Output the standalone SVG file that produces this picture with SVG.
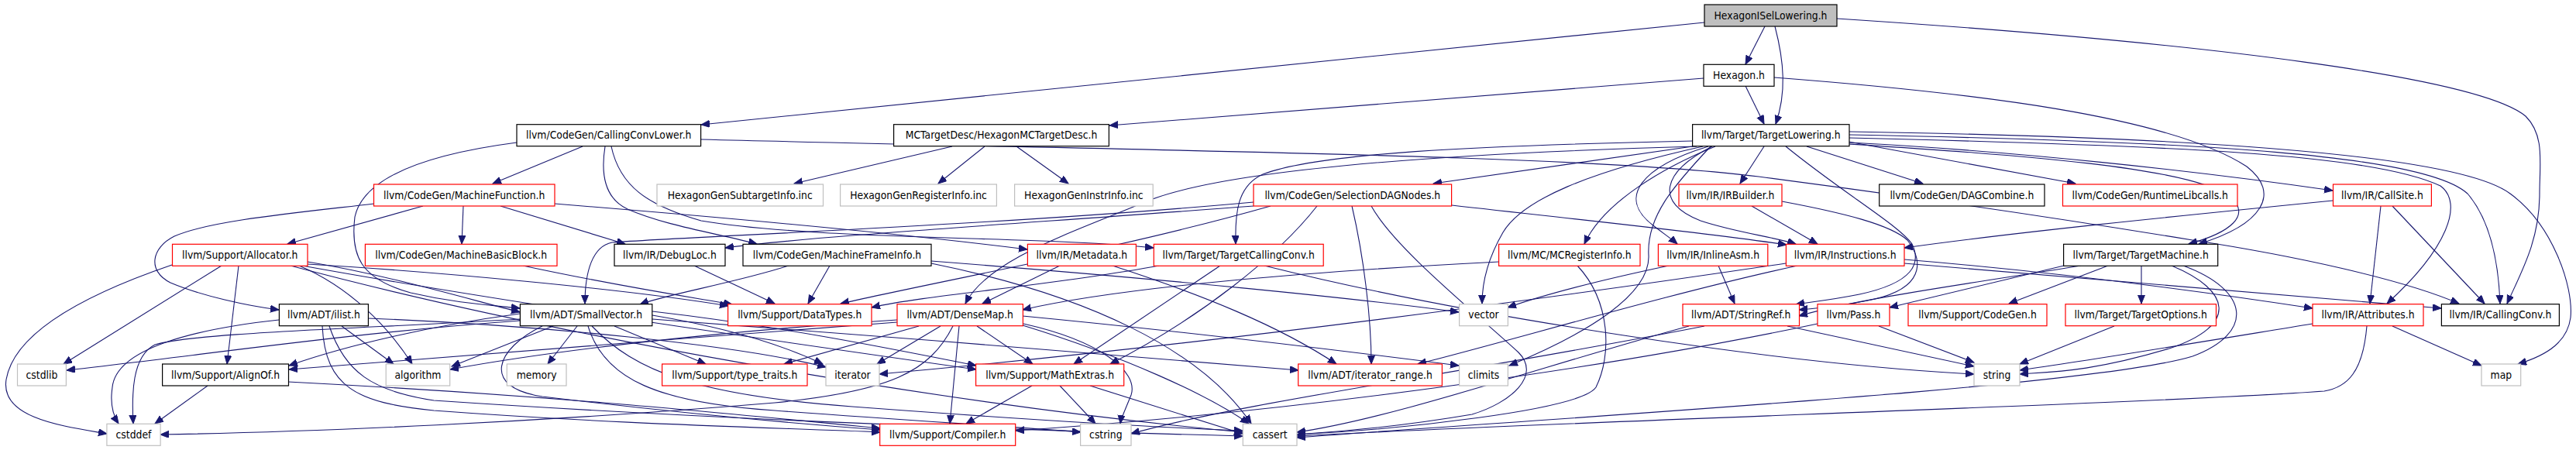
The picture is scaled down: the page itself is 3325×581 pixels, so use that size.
<svg xmlns="http://www.w3.org/2000/svg" width="3325" height="581" viewBox="0 0 3325 581">
<style>
.e{fill:none;stroke:#191970;stroke-width:1.1;marker-end:url(#arr)}
.n rect{fill:#ffffff;stroke-width:1.2}
.blk rect{stroke:#000000}
.red rect{stroke:#ff0000}
.gry rect{stroke:#bfbfbf}
.root rect{fill:#bfbfbf;stroke:#000000}
.n text{font-family:"DejaVu Sans","Liberation Sans",sans-serif;font-size:13.5px;fill:#000000;text-anchor:middle}
</style>
<defs>
<marker id="arr" markerWidth="12" markerHeight="10" refX="11" refY="4.5" orient="auto" markerUnits="userSpaceOnUse"><path d="M0,0 L11,4.5 L0,9 z" fill="#191970" stroke="#191970" stroke-width="1"/></marker>
</defs>
<rect x="0" y="0" width="3325" height="581" fill="#ffffff"/>
<g id="edges">
<path class="e" d="M2278,34 L2253,83"/>
<path class="e" d="M2291,34 C2303,80 2306,120 2292,160"/>
<path class="e" d="M2200,29 L905,161"/>
<path class="e" d="M2371,24 C2850,55 3200,100 3260,150 C3285,175 3278,210 3278,250 C3278,310 3255,350 3236,392"/>
<path class="e" d="M2199,101 L1432,162"/>
<path class="e" d="M2253,111 L2277,160"/>
<path class="e" d="M2290,100 C2550,120 2800,150 2900,215 C2945,250 2920,290 2838,315"/>
<path class="e" d="M1229,189 L1025,237"/>
<path class="e" d="M1271,189 L1211,237"/>
<path class="e" d="M1312,189 L1379,237"/>
<path class="e" d="M752,189 L636,237"/>
<path class="e" d="M667,184 C560,198 470,225 458,280 C452,330 465,360 530,378 C590,392 635,394 671,398"/>
<path class="e" d="M781,189 C776,220 778,255 810,270 C860,292 930,302 977,315"/>
<path class="e" d="M789,189 C800,240 835,265 905,285 C1050,310 1350,305 1489,320"/>
<path class="e" d="M905,180 C1500,195 2050,200 2270,228 C2500,258 2720,292 2830,310 C2960,330 3100,360 3174,392"/>
<path class="e" d="M2185,189 L1850,237"/>
<path class="e" d="M2190,189 C1800,200 1560,225 1475,262 C1385,300 1275,335 1246,392"/>
<path class="e" d="M2332,189 L2482,237"/>
<path class="e" d="M2386,183 L2679,237"/>
<path class="e" d="M2277,189 L2246,237"/>
<path class="e" d="M2387,184 C2600,195 2830,220 3011,246"/>
<path class="e" d="M2387,178 C2800,188 3060,198 3150,240 C3180,262 3160,320 3081,392"/>
<path class="e" d="M2387,174 C2850,183 3130,200 3185,250 C3215,285 3225,340 3227,392"/>
<path class="e" d="M2387,170 C2900,178 3180,205 3240,250 C3295,290 3322,370 3318,410 C3314,440 3290,458 3250,470"/>
<path class="e" d="M2387,186 C2600,200 2830,215 2880,255 C2905,278 2880,300 2825,315"/>
<path class="e" d="M2185,182 C1900,188 1700,198 1630,225 C1597,240 1594,275 1595,315"/>
<path class="e" d="M2214,189 C2150,215 2070,260 2045,315"/>
<path class="e" d="M2205,189 C2120,215 2085,255 2135,292 C2148,302 2157,308 2165,315"/>
<path class="e" d="M2210,189 C2145,222 2135,262 2195,285 C2240,300 2290,306 2318,315"/>
<path class="e" d="M2198,189 C2050,222 1965,258 1940,300 C1918,338 1913,368 1913,392"/>
<path class="e" d="M2208,189 C2160,240 2125,280 2128,330 C2130,380 2050,430 1948,472"/>
<path class="e" d="M2305,189 C2380,250 2450,290 2468,315 C2480,340 2470,365 2400,380 C2360,388 2335,390 2318,393"/>
<path class="e" d="M2300,260 C2380,275 2440,290 2462,310 C2485,340 2480,372 2420,386 C2380,395 2345,398 2322,400"/>
<path class="e" d="M1618,261 C1300,290 900,305 790,313 C765,318 755,350 755,392"/>
<path class="e" d="M1618,266 C1300,290 1050,305 936,320"/>
<path class="e" d="M1874,265 C2050,285 2200,300 2306,316"/>
<path class="e" d="M1640,266 C1450,320 1250,355 1085,392"/>
<path class="e" d="M1700,266 C1650,330 1550,410 1433,470"/>
<path class="e" d="M1745,266 C1760,330 1770,410 1770,470"/>
<path class="e" d="M1770,266 C1800,320 1900,400 1960,455 C1990,485 1950,520 1900,535 C1800,552 1720,558 1674,561"/>
<path class="e" d="M483,263 C380,275 270,285 225,305 C195,320 190,350 220,365 C260,382 320,395 360,400"/>
<path class="e" d="M598,266 L596,315"/>
<path class="e" d="M646,266 L807,315"/>
<path class="e" d="M546,266 L371,315"/>
<path class="e" d="M716,263 C950,282 1150,300 1326,322"/>
<path class="e" d="M2261,266 L2346,315"/>
<path class="e" d="M3073,266 L3059,392"/>
<path class="e" d="M3088,266 L3207,392"/>
<path class="e" d="M3011,259 C2800,280 2600,300 2458,320"/>
<path class="e" d="M397,338 C500,355 600,385 671,403"/>
<path class="e" d="M308,343 L293,470"/>
<path class="e" d="M397,341 C550,350 800,372 940,395"/>
<path class="e" d="M390,343 C650,390 1000,440 1260,477"/>
<path class="e" d="M386,343 C450,370 500,420 532,470"/>
<path class="e" d="M375,343 C700,430 1200,520 1604,558"/>
<path class="e" d="M222,342 C140,370 20,420 8,490 C0,540 80,550 138,560"/>
<path class="e" d="M286,343 L82,470"/>
<path class="e" d="M675,343 C800,370 900,385 945,393"/>
<path class="e" d="M896,343 L1000,392"/>
<path class="e" d="M1018,343 C950,365 860,380 826,393"/>
<path class="e" d="M1071,343 L1043,392"/>
<path class="e" d="M1202,340 C1400,380 1550,450 1615,547"/>
<path class="e" d="M1202,337 C1500,360 1750,385 1883,403"/>
<path class="e" d="M1368,343 L1268,392"/>
<path class="e" d="M1436,343 C1550,380 1650,420 1725,470"/>
<path class="e" d="M1496,343 C1350,370 1200,380 1125,397"/>
<path class="e" d="M1575,343 L1386,470"/>
<path class="e" d="M1632,343 C1900,410 2300,470 2548,483"/>
<path class="e" d="M1935,338 C1700,350 1450,370 1320,400"/>
<path class="e" d="M2036,343 C2080,390 2080,460 2060,500 C2040,530 1800,555 1674,561"/>
<path class="e" d="M2218,343 L2239,392"/>
<path class="e" d="M2154,343 C2050,365 1980,385 1946,397"/>
<path class="e" d="M2458,335 C2700,355 2900,385 2985,398"/>
<path class="e" d="M2458,340 C2800,370 3000,385 3151,398"/>
<path class="e" d="M2320,343 C2150,380 1950,440 1830,470"/>
<path class="e" d="M2305,340 C1900,400 1500,450 1135,483"/>
<path class="e" d="M2686,343 C2550,365 2400,385 2322,408"/>
<path class="e" d="M2664,343 L2439,397"/>
<path class="e" d="M2721,343 L2593,392"/>
<path class="e" d="M2764,343 L2764,392"/>
<path class="e" d="M2803,343 C2880,375 2890,420 2800,450 C2700,480 2650,480 2607,483"/>
<path class="e" d="M2818,343 C2905,375 2910,430 2830,460 C2700,500 2000,540 1674,565"/>
<path class="e" d="M416,421 C420,500 460,520 560,530 C800,548 1000,552 1136,558"/>
<path class="e" d="M441,421 L508,470"/>
<path class="e" d="M425,421 C445,480 480,505 560,517 C900,540 1300,555 1604,563"/>
<path class="e" d="M360,413 C250,425 150,450 145,500 C142,520 145,535 153,547"/>
<path class="e" d="M475,411 C700,420 950,445 1066,474"/>
<path class="e" d="M842,412 C1100,430 1450,460 1676,478"/>
<path class="e" d="M671,405 C560,420 450,445 373,472"/>
<path class="e" d="M700,421 C640,450 620,500 700,512 C850,530 1000,545 1136,555"/>
<path class="e" d="M759,421 C780,490 850,520 1000,530 C1200,545 1300,550 1395,558"/>
<path class="e" d="M764,421 C820,480 900,510 1100,525 C1300,540 1500,552 1604,556"/>
<path class="e" d="M842,402 C1000,420 1150,450 1260,472"/>
<path class="e" d="M793,421 L911,470"/>
<path class="e" d="M714,421 L583,473"/>
<path class="e" d="M671,412 C450,425 250,430 200,445 C170,460 170,510 172,547"/>
<path class="e" d="M671,414 C450,430 250,460 86,478"/>
<path class="e" d="M842,407 C950,425 1020,450 1062,470"/>
<path class="e" d="M745,421 L707,470"/>
<path class="e" d="M1158,416 C900,435 600,460 373,477"/>
<path class="e" d="M1238,421 L1226,547"/>
<path class="e" d="M1261,421 L1333,470"/>
<path class="e" d="M1186,421 L1012,470"/>
<path class="e" d="M1158,413 C900,430 700,455 581,477"/>
<path class="e" d="M1320,420 C1450,460 1560,510 1612,547"/>
<path class="e" d="M1320,408 C1550,430 1750,455 1883,472"/>
<path class="e" d="M1321,418 C1420,440 1470,480 1460,510 C1452,530 1447,540 1446,547"/>
<path class="e" d="M1214,421 L1132,470"/>
<path class="e" d="M1230,421 C1200,480 1150,505 1000,520 C700,545 400,558 207,561"/>
<path class="e" d="M2307,421 L2548,473"/>
<path class="e" d="M2180,421 C2000,470 1800,540 1674,558"/>
<path class="e" d="M2200,421 C1900,480 1600,520 1460,560"/>
<path class="e" d="M2346,418 C2100,470 1700,530 1311,556"/>
<path class="e" d="M2425,421 L2548,468"/>
<path class="e" d="M2729,421 L2607,470"/>
<path class="e" d="M3088,421 L3203,472"/>
<path class="e" d="M2985,418 C2850,440 2700,465 2607,478"/>
<path class="e" d="M3055,421 C3050,480 3030,500 3000,505 C2800,520 2000,545 1674,563"/>
<path class="e" d="M1332,498 L1247,547"/>
<path class="e" d="M1368,498 L1414,547"/>
<path class="e" d="M1407,498 L1604,560"/>
<path class="e" d="M372,493 C700,510 900,530 1136,553"/>
<path class="e" d="M268,498 L200,547"/>
</g>
<g id="n-root" class="n root"><rect x="2200" y="6" width="171" height="28"/><text transform="translate(2285.5,24.5) scale(0.92,1)">HexagonISelLowering.h</text></g>
<g id="n-hex" class="n blk"><rect x="2199" y="83.3" width="91" height="28"/><text transform="translate(2244.5,101.8) scale(0.92,1)">Hexagon.h</text></g>
<g id="n-tl" class="n blk"><rect x="2184.6" y="160.7" width="202.4" height="28"/><text transform="translate(2285.8,179.2) scale(0.92,1)">llvm/Target/TargetLowering.h</text></g>
<g id="n-ccl" class="n blk"><rect x="667" y="160.7" width="237.6" height="28"/><text transform="translate(785.8,179.2) scale(0.92,1)">llvm/CodeGen/CallingConvLower.h</text></g>
<g id="n-mctd" class="n blk"><rect x="1153.6" y="160.7" width="277.8" height="28"/><text transform="translate(1292.5,179.2) scale(0.92,1)">MCTargetDesc/HexagonMCTargetDesc.h</text></g>
<g id="n-mf" class="n red"><rect x="482.5" y="238" width="233.5" height="28"/><text transform="translate(599.25,256.5) scale(0.92,1)">llvm/CodeGen/MachineFunction.h</text></g>
<g id="n-gsub" class="n gry"><rect x="848" y="238" width="214.5" height="28"/><text transform="translate(955.25,256.5) scale(0.92,1)">HexagonGenSubtargetInfo.inc</text></g>
<g id="n-greg" class="n gry"><rect x="1084.6" y="238" width="201.8" height="28"/><text transform="translate(1185.5,256.5) scale(0.92,1)">HexagonGenRegisterInfo.inc</text></g>
<g id="n-ginst" class="n gry"><rect x="1309.6" y="238" width="178.6" height="28"/><text transform="translate(1398.9,256.5) scale(0.92,1)">HexagonGenInstrInfo.inc</text></g>
<g id="n-sdn" class="n red"><rect x="1618" y="238" width="255.6" height="28"/><text transform="translate(1745.8,256.5) scale(0.92,1)">llvm/CodeGen/SelectionDAGNodes.h</text></g>
<g id="n-irb" class="n red"><rect x="2167" y="238" width="133" height="28"/><text transform="translate(2233.5,256.5) scale(0.92,1)">llvm/IR/IRBuilder.h</text></g>
<g id="n-dagc" class="n blk"><rect x="2425.7" y="238" width="213.3" height="28"/><text transform="translate(2532.35,256.5) scale(0.92,1)">llvm/CodeGen/DAGCombine.h</text></g>
<g id="n-rtl" class="n red"><rect x="2662.5" y="238" width="225.5" height="28"/><text transform="translate(2775.25,256.5) scale(0.92,1)">llvm/CodeGen/RuntimeLibcalls.h</text></g>
<g id="n-cs" class="n red"><rect x="3011.5" y="238" width="126.9" height="28"/><text transform="translate(3074.95,256.5) scale(0.92,1)">llvm/IR/CallSite.h</text></g>
<g id="n-alloc" class="n red"><rect x="222.5" y="315.3" width="174.5" height="28"/><text transform="translate(309.75,333.8) scale(0.92,1)">llvm/Support/Allocator.h</text></g>
<g id="n-mbb" class="n red"><rect x="471.4" y="315.3" width="247.6" height="28"/><text transform="translate(595.2,333.8) scale(0.92,1)">llvm/CodeGen/MachineBasicBlock.h</text></g>
<g id="n-dl" class="n blk"><rect x="793" y="315.3" width="143" height="28"/><text transform="translate(864.5,333.8) scale(0.92,1)">llvm/IR/DebugLoc.h</text></g>
<g id="n-mfi" class="n blk"><rect x="959" y="315.3" width="243" height="28"/><text transform="translate(1080.5,333.8) scale(0.92,1)">llvm/CodeGen/MachineFrameInfo.h</text></g>
<g id="n-md" class="n red"><rect x="1326.4" y="315.3" width="140" height="28"/><text transform="translate(1396.4,333.8) scale(0.92,1)">llvm/IR/Metadata.h</text></g>
<g id="n-tcc" class="n red"><rect x="1489.3" y="315.3" width="218.9" height="28"/><text transform="translate(1598.75,333.8) scale(0.92,1)">llvm/Target/TargetCallingConv.h</text></g>
<g id="n-mcri" class="n red"><rect x="1934.6" y="315.3" width="182.4" height="28"/><text transform="translate(2025.8,333.8) scale(0.92,1)">llvm/MC/MCRegisterInfo.h</text></g>
<g id="n-ia" class="n red"><rect x="2140.4" y="315.3" width="141.4" height="28"/><text transform="translate(2211.1,333.8) scale(0.92,1)">llvm/IR/InlineAsm.h</text></g>
<g id="n-inst" class="n red"><rect x="2305.4" y="315.3" width="152.6" height="28"/><text transform="translate(2381.7,333.8) scale(0.92,1)">llvm/IR/Instructions.h</text></g>
<g id="n-tm" class="n blk"><rect x="2663.6" y="315.3" width="199.1" height="28"/><text transform="translate(2763.15,333.8) scale(0.92,1)">llvm/Target/TargetMachine.h</text></g>
<g id="n-ilist" class="n blk"><rect x="360.4" y="392.7" width="115" height="28"/><text transform="translate(417.9,411.2) scale(0.92,1)">llvm/ADT/ilist.h</text></g>
<g id="n-sv" class="n blk"><rect x="671.4" y="392.7" width="170.4" height="28"/><text transform="translate(756.6,411.2) scale(0.92,1)">llvm/ADT/SmallVector.h</text></g>
<g id="n-dt" class="n red"><rect x="939.6" y="392.7" width="185.4" height="28"/><text transform="translate(1032.3,411.2) scale(0.92,1)">llvm/Support/DataTypes.h</text></g>
<g id="n-dm" class="n red"><rect x="1158" y="392.7" width="162.4" height="28"/><text transform="translate(1239.2,411.2) scale(0.92,1)">llvm/ADT/DenseMap.h</text></g>
<g id="n-vec" class="n gry"><rect x="1883.6" y="392.7" width="62.8" height="28"/><text transform="translate(1915,411.2) scale(0.92,1)">vector</text></g>
<g id="n-sr" class="n red"><rect x="2172" y="392.7" width="150.5" height="28"/><text transform="translate(2247.25,411.2) scale(0.92,1)">llvm/ADT/StringRef.h</text></g>
<g id="n-pass" class="n red"><rect x="2346" y="392.7" width="93" height="28"/><text transform="translate(2392.5,411.2) scale(0.92,1)">llvm/Pass.h</text></g>
<g id="n-cg" class="n red"><rect x="2463" y="392.7" width="179" height="28"/><text transform="translate(2552.5,411.2) scale(0.92,1)">llvm/Support/CodeGen.h</text></g>
<g id="n-to" class="n red"><rect x="2666" y="392.7" width="194.5" height="28"/><text transform="translate(2763.25,411.2) scale(0.92,1)">llvm/Target/TargetOptions.h</text></g>
<g id="n-attr" class="n red"><rect x="2985" y="392.7" width="143" height="28"/><text transform="translate(3056.5,411.2) scale(0.92,1)">llvm/IR/Attributes.h</text></g>
<g id="n-cc" class="n blk"><rect x="3151.4" y="392.7" width="152" height="28"/><text transform="translate(3227.4,411.2) scale(0.92,1)">llvm/IR/CallingConv.h</text></g>
<g id="n-cstdlib" class="n gry"><rect x="22.5" y="470" width="62.9" height="28"/><text transform="translate(53.95,488.5) scale(0.92,1)">cstdlib</text></g>
<g id="n-align" class="n blk"><rect x="209.6" y="470" width="162.9" height="28"/><text transform="translate(291.05,488.5) scale(0.92,1)">llvm/Support/AlignOf.h</text></g>
<g id="n-algo" class="n gry"><rect x="498.2" y="470" width="82.5" height="28"/><text transform="translate(539.45,488.5) scale(0.92,1)">algorithm</text></g>
<g id="n-mem" class="n gry"><rect x="654.3" y="470" width="76.7" height="28"/><text transform="translate(692.65,488.5) scale(0.92,1)">memory</text></g>
<g id="n-tt" class="n red"><rect x="854.6" y="470" width="187.4" height="28"/><text transform="translate(948.3,488.5) scale(0.92,1)">llvm/Support/type_traits.h</text></g>
<g id="n-iter" class="n gry"><rect x="1066" y="470" width="69" height="28"/><text transform="translate(1100.5,488.5) scale(0.92,1)">iterator</text></g>
<g id="n-me" class="n red"><rect x="1259.6" y="470" width="191.1" height="28"/><text transform="translate(1355.15,488.5) scale(0.92,1)">llvm/Support/MathExtras.h</text></g>
<g id="n-ir" class="n red"><rect x="1675.7" y="470" width="185.7" height="28"/><text transform="translate(1768.55,488.5) scale(0.92,1)">llvm/ADT/iterator_range.h</text></g>
<g id="n-climits" class="n gry"><rect x="1883.6" y="470" width="62.8" height="28"/><text transform="translate(1915,488.5) scale(0.92,1)">climits</text></g>
<g id="n-str" class="n gry"><rect x="2548" y="470" width="59" height="28"/><text transform="translate(2577.5,488.5) scale(0.92,1)">string</text></g>
<g id="n-map" class="n gry"><rect x="3203" y="470" width="50.7" height="28"/><text transform="translate(3228.35,488.5) scale(0.92,1)">map</text></g>
<g id="n-cstddef" class="n gry"><rect x="137.9" y="547.3" width="69.2" height="28"/><text transform="translate(172.5,565.8) scale(0.92,1)">cstddef</text></g>
<g id="n-comp" class="n red"><rect x="1135.7" y="547.3" width="175" height="28"/><text transform="translate(1223.2,565.8) scale(0.92,1)">llvm/Support/Compiler.h</text></g>
<g id="n-cstring" class="n gry"><rect x="1394.6" y="547.3" width="65.4" height="28"/><text transform="translate(1427.3,565.8) scale(0.92,1)">cstring</text></g>
<g id="n-cassert" class="n gry"><rect x="1604.3" y="547.3" width="69.7" height="28"/><text transform="translate(1639.15,565.8) scale(0.92,1)">cassert</text></g>
</svg>
